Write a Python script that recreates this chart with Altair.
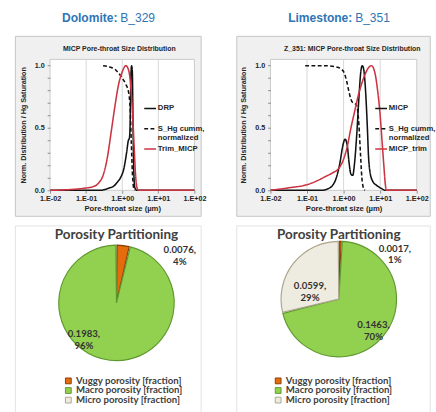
import altair as alt
import pandas as pd

# ---------------- MICP pore-throat size distributions (size in µm) ----------------
# Dolomite B_329
dol_drp_size = [0.01, 0.251, 0.316, 0.447, 0.562, 0.708, 0.891, 1.122, 1.318, 1.479,
                 1.585, 1.660, 1.738, 1.820, 1.905, 1.995, 2.089, 2.239, 2.512, 100]
dol_drp_val = [0, 0, 0.005, 0.02, 0.03, 0.06, 0.10, 0.18, 0.30, 0.40,
               0.42, 0.55, 0.92, 1.0, 0.95, 0.50, 0.15, 0.02, 0, 0]

dol_shg_size = [0.295, 0.447, 0.631, 0.794, 1.0, 1.259, 1.514, 1.660, 1.778, 1.905, 2.042, 2.188]
dol_shg_val = [1.0, 0.99, 0.97, 0.94, 0.90, 0.85, 0.78, 0.65, 0.40, 0.15, 0.03, 0.0]

dol_trim_size = [0.01, 0.0316, 0.0794, 0.158, 0.224, 0.295, 0.38, 0.501, 0.631, 0.794,
                 1.0, 1.259, 1.514, 1.738, 1.950, 2.138, 2.344, 2.570, 2.818, 100]
dol_trim_val = [0, 0.005, 0.015, 0.03, 0.06, 0.12, 0.25, 0.48, 0.68, 0.85,
                0.95, 1.0, 0.96, 0.82, 0.60, 0.35, 0.12, 0.02, 0, 0]

# Limestone B_351
lim_micp_size = [0.01, 0.251, 0.355, 0.501, 0.631, 0.794, 0.955, 1.096, 1.259, 1.413,
                 1.585, 1.778, 1.995, 2.291, 2.630, 2.951, 3.236, 3.548, 3.981, 4.467,
                 4.786, 5.248, 6.310, 7.943, 10, 14.13, 100]
lim_micp_val = [0, 0, 0.01, 0.04, 0.10, 0.22, 0.36, 0.41, 0.36, 0.22,
                0.13, 0.12, 0.22, 0.45, 0.75, 0.95, 1.0, 0.97, 0.80, 0.50,
                0.28, 0.15, 0.07, 0.04, 0.02, 0, 0]

lim_shg_size = [0.0891, 0.316, 0.631, 0.891, 1.047, 1.202, 1.380, 1.585, 1.820, 2.188,
                2.399, 2.630, 2.884, 3.162, 3.467, 3.802]
lim_shg_val = [1.0, 1.0, 0.99, 0.97, 0.94, 0.88, 0.80, 0.73, 0.70, 0.69,
               0.65, 0.52, 0.30, 0.10, 0.02, 0.0]

lim_trim_size = [0.01, 0.0316, 0.1, 0.2, 0.316, 0.501, 0.708, 1.0, 1.259, 1.585,
                 1.995, 2.512, 3.162, 3.981, 5.012, 5.754, 7.079, 8.511, 10, 11.22,
                 12.59, 13.80, 14.79, 100]
lim_trim_val = [0, 0.02, 0.045, 0.08, 0.11, 0.14, 0.17, 0.25, 0.35, 0.50,
                0.63, 0.76, 0.86, 0.94, 0.99, 1.0, 0.95, 0.80, 0.60, 0.40,
                0.20, 0.05, 0, 0]

size_ticks = [0.01, 0.1, 1, 10, 100]
grid_sizes = [0.1, 1, 10]
norm_ticks = [0, 0.1, 0.2, 0.3, 0.4, 0.5, 0.6, 0.7, 0.8, 0.9, 1.0]

# ---------------- Porosity partitioning [fraction] ----------------
porosity_kinds = ["Vuggy porosity [fraction]", "Macro porosity [fraction]", "Micro porosity [fraction]"]
dol_porosity = [0.0076, 0.1983, 0.0]
lim_porosity = [0.0017, 0.1463, 0.0599]

LINE_FONT = "Liberation Sans"
PIE_FONT = "Lato"
HEAD_BLUE = "#2e75b6"
TXT = "#262626"
PW, PH = 150, 136


def curves(parts):
    rows = []
    for name, xs, ys in parts:
        rows += [{"series": name, "size": a, "value": b} for a, b in zip(xs, ys)]
    return pd.DataFrame(rows)


def one_row():
    return pd.DataFrame({"k": [0]})


def label_text(text, x, y, **style):
    return alt.Chart(one_row()).mark_text(baseline="middle", **style).encode(
        x=alt.value(x), y=alt.value(y), text=alt.value(text))


EXP_LABEL = ("'1.E' + (datum.value < 1 ? '-' : '+') + '0' + "
             "format(abs(round(log(datum.value) / LN10)), 'd')")
# every legend label takes two lines so the rows keep an even pitch
LEGEND_LABEL = "indexof(datum.label, '|') >= 0 ? split(datum.label, '|') : [datum.label, '']"


def psd_panel(df, names, colors, dashes, title, title_dx, head_a, head_b, head_split,
              legend_x, panel_l, panel_r, width):
    xs = alt.Scale(type="log", domain=[0.01, 100])
    ys = alt.Scale(domain=[0, 1.05])
    x_axis = alt.Axis(values=size_ticks, labelExpr=EXP_LABEL, grid=False, domain=False,
                      tickSize=3, tickColor="#8c8c8c", labelFont=LINE_FONT, labelFontSize=7.5,
                      labelFontWeight="bold", labelColor=TXT, labelPadding=2, labelFlush=False,
                      labelOverlap=False, titleFont=LINE_FONT, titleFontSize=8,
                      titleFontWeight="bold", titleColor=TXT, titlePadding=3, zindex=1)
    y_axis = alt.Axis(values=norm_ticks,
                      labelExpr="(datum.value == 0 || datum.value == 0.5 || datum.value == 1) ? format(datum.value, '.1f') : ''",
                      grid=False, domain=False, tickSize=3, tickColor="#8c8c8c",
                      labelFont=LINE_FONT, labelFontSize=7.5, labelFontWeight="bold",
                      labelColor=TXT, labelPadding=3, titleFont=LINE_FONT, titleFontSize=7.5,
                      titleFontWeight="bold", titleColor=TXT, titlePadding=7, zindex=1)
    leg = alt.Legend(orient="none", legendX=legend_x, legendY=44, title=None,
                     symbolType="stroke", symbolSize=150, symbolStrokeWidth=1.6,
                     labelFont=LINE_FONT, labelFontSize=8, labelFontWeight="bold",
                     labelColor=TXT, rowPadding=-2, labelOffset=1, padding=0,
                     labelExpr=LEGEND_LABEL)

    panel = alt.Chart(one_row()).mark_rect(fill="#f0f0f0", stroke="#c4c4c4", strokeWidth=1).encode(
        x=alt.value(panel_l), x2=alt.value(panel_r), y=alt.value(-24), y2=alt.value(163))
    plot_bg = alt.Chart(one_row()).mark_rect(fill="white", stroke="#bfbfbf", strokeWidth=0.8).encode(
        x=alt.value(0), x2=alt.value(width), y=alt.value(0), y2=alt.value(PH))
    grid = alt.Chart(pd.DataFrame({"g": grid_sizes})).mark_rule(color="#d6d6d6", strokeWidth=1).encode(
        x=alt.X("g:Q", scale=xs, axis=x_axis, title="Pore-throat size (µm)"))
    lines = alt.Chart(df).mark_line(strokeWidth=1.6, interpolate="monotone").encode(
        x=alt.X("size:Q", scale=xs, axis=x_axis, title="Pore-throat size (µm)"),
        y=alt.Y("value:Q", scale=ys, axis=y_axis, title="Norm. Distribution / Hg Saturation"),
        color=alt.Color("series:N", scale=alt.Scale(domain=names, range=colors), legend=leg),
        strokeDash=alt.StrokeDash("series:N", scale=alt.Scale(domain=names, range=dashes), legend=leg),
    )
    head1 = label_text(head_a, head_split, -43, font=LINE_FONT, fontSize=12.5, fontWeight="bold",
                       color=HEAD_BLUE, align="right")
    head2 = label_text(head_b, head_split + 3, -43, font=LINE_FONT, fontSize=12.5,
                       color=HEAD_BLUE, align="left")
    sub = label_text(title, width / 2 + title_dx, -11, font=LINE_FONT, fontSize=7.2,
                     fontWeight="bold", color=TXT, align="center")
    return alt.layer(panel, plot_bg, grid, lines, head1, head2, sub).properties(
        width=width, height=PH)


PIE_FILLS = ["#e46c0a", "#92d050", "#eeece1"]
PIE_EDGES = ["#8a3c08", "#5f9830", "#aaa58c"]


def pie_panel(values, width, height, label_specs, legend_x, panel_l, panel_r):
    df = pd.DataFrame({"kind": porosity_kinds, "value": values})
    kinds_js = "[" + ", ".join("'" + k + "'" for k in porosity_kinds) + "]"
    base = alt.Chart(df).transform_joinaggregate(total="sum(value)").transform_calculate(
        idx=f"indexof({kinds_js}, datum.kind)",
        label="format(datum.value, '.4f') + ',\\n' + format(datum.value / datum.total, '.0%')")
    leg = alt.Legend(orient="none", legendX=legend_x, legendY=135, title=None,
                     symbolType="square", symbolSize=36, symbolStrokeWidth=1,
                     labelFont=PIE_FONT, labelFontSize=10, labelFontWeight="bold",
                     labelColor="#404040", rowPadding=0, labelOffset=3, padding=0)
    frame = alt.Chart(one_row()).mark_rect(fill="white", stroke="#e2e2e2", strokeWidth=1).encode(
        x=alt.value(panel_l), x2=alt.value(panel_r), y=alt.value(-21), y2=alt.value(200))
    arcs = base.transform_filter("datum.value > 0").mark_arc(radius=60, padAngle=0.02, strokeWidth=1.2).encode(
        theta=alt.Theta("value:Q", stack=True),
        order=alt.Order("idx:Q"),
        color=alt.Color("kind:N", scale=alt.Scale(domain=porosity_kinds, range=PIE_FILLS), legend=leg),
        stroke=alt.Stroke("kind:N", scale=alt.Scale(domain=porosity_kinds, range=PIE_EDGES), legend=None),
    )
    layers = [frame, arcs]
    for kind, r, dx, dy in label_specs:
        layers.append(base.mark_text(radius=r, dx=dx, dy=dy, lineBreak="\n", font=PIE_FONT,
                                     fontSize=10, fontWeight="bold", color="#333333",
                                     align="center", baseline="middle").encode(
            theta=alt.Theta("value:Q", stack=True),
            order=alt.Order("idx:Q"),
            text=alt.condition(f"datum.kind == '{kind}'", alt.Text("label:N"), alt.value(""))))
    layers.append(label_text("Porosity Partitioning", width / 2, -11, font=PIE_FONT, fontSize=14,
                             fontWeight="bold", color="#404040", align="center"))
    return alt.layer(*layers).properties(width=width, height=height)


dol_df = curves([("DRP", dol_drp_size, dol_drp_val),
                 ("S_Hg cumm,|normalized", dol_shg_size, dol_shg_val),
                 ("Trim_MICP", dol_trim_size, dol_trim_val)])
lim_df = curves([("MICP", lim_micp_size, lim_micp_val),
                 ("S_Hg cumm,|normalized", lim_shg_size, lim_shg_val),
                 ("MICP_trim", lim_trim_size, lim_trim_val)])

RED = "#cc3340"
BLACK = "#111111"
DASHES = [[1, 0], [4, 2.5], [1, 0]]

psd_dol = psd_panel(dol_df, ["DRP", "S_Hg cumm,|normalized", "Trim_MICP"], [BLACK, BLACK, RED], DASHES,
                    "MICP Pore-throat Size Distribution", -3, "Dolomite:", "B_329", 70, 97, -36, 157, PW)
psd_lim = psd_panel(lim_df, ["MICP", "S_Hg cumm,|normalized", "MICP_trim"], [BLACK, BLACK, RED], DASHES,
                    "Z_351: MICP Pore-throat Size Distribution", 9, "Limestone:", "B_351", 85, 108, -35, 166, 152)

pie_dol = pie_panel(dol_porosity, 138, 118,
                    [(porosity_kinds[0], 50, 60, -5), (porosity_kinds[1], 33, -30, 0)],
                    14, -36, 157)
pie_lim = pie_panel(lim_porosity, 142, 110,
                    [(porosity_kinds[0], 48, 57, -4), (porosity_kinds[1], 43, 3, 0),
                     (porosity_kinds[2], 38, 0, 10)],
                    3, -35, 166)

chart = alt.concat(psd_dol, psd_lim, pie_dol, pie_lim, columns=2,
                   spacing={"row": 58, "column": 79}, bounds="flush").resolve_scale(
    color="independent", strokeDash="independent", stroke="independent", theta="independent"
).resolve_legend(
    color="independent", strokeDash="independent", stroke="independent"
).properties(
    padding={"left": 15, "top": 4, "right": 0, "bottom": 0},
    background="white",
).configure_view(strokeWidth=0)

chart.save("out.html", embed_options={"renderer": "svg", "actions": False})
